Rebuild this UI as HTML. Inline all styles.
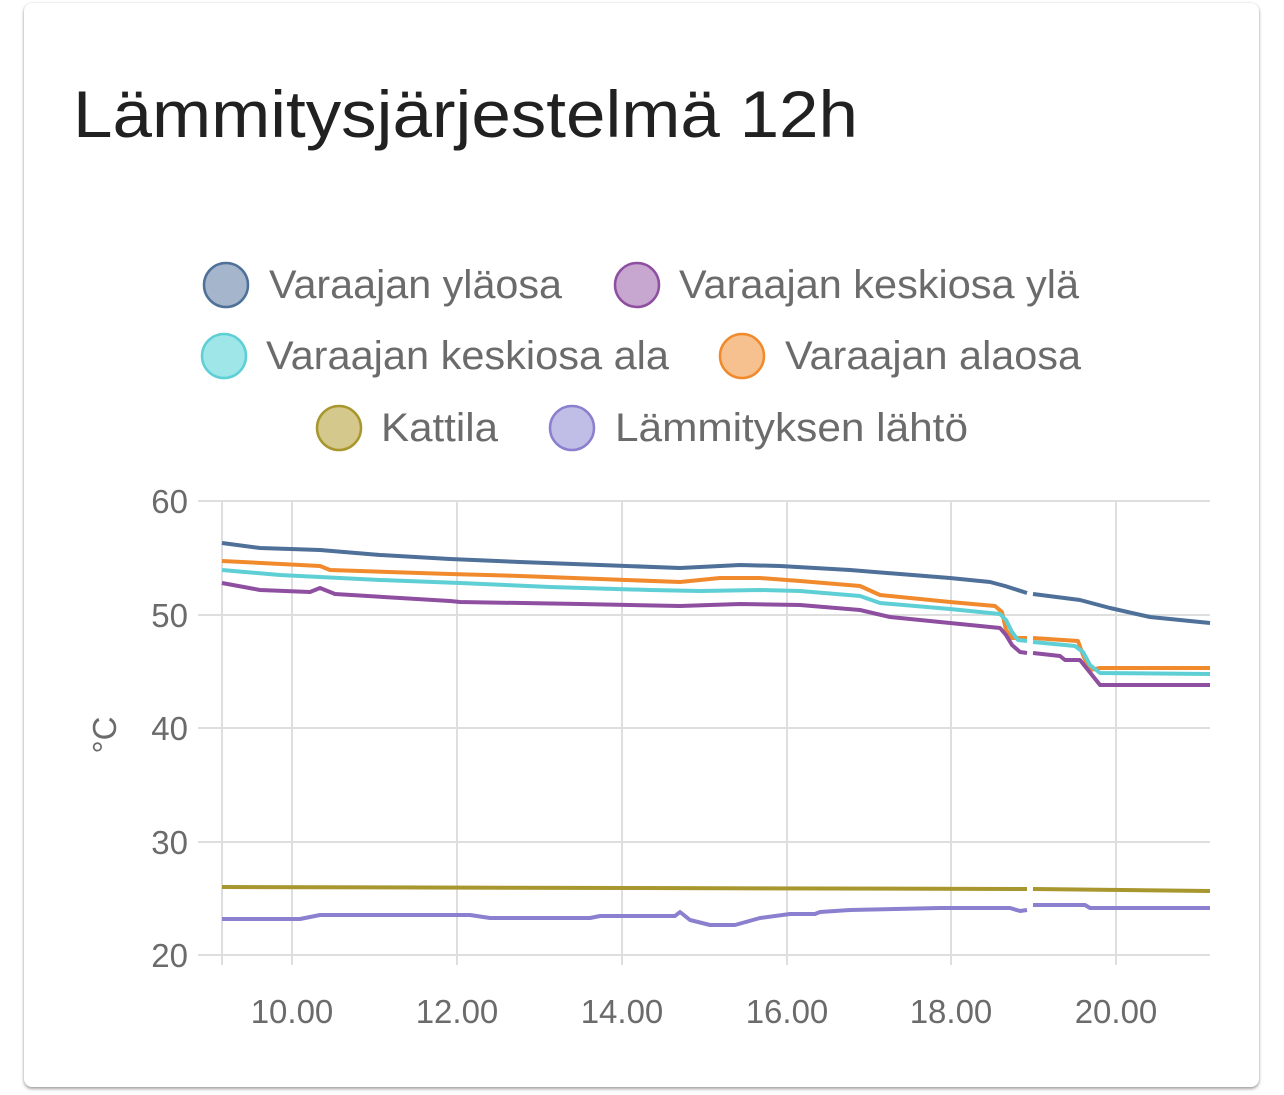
<!DOCTYPE html>
<html><head><meta charset="utf-8"><style>
html,body{margin:0;padding:0;background:#fff;width:1284px;height:1095px;overflow:hidden}
.card{position:absolute;left:24px;top:3px;width:1235px;height:1084px;border-radius:8px;background:#fff;box-shadow:0 2px 3px rgba(0,0,0,0.35),0 0 2px rgba(0,0,0,0.12)}
svg{position:absolute;left:0;top:0}
text{font-family:"Liberation Sans",sans-serif}
</style></head><body>
<div class="card"></div>
<svg width="1284" height="1095" viewBox="0 0 1284 1095">
<text x="73" y="137" font-size="66" fill="#212121" textLength="785" lengthAdjust="spacingAndGlyphs">Lämmitysjärjestelmä 12h</text>
<g font-size="40" fill="#6b6b6b">
<circle cx="226" cy="285" r="22" fill="#a5b5cc" stroke="#4e7099" stroke-width="2.5"/><text x="269" y="298" textLength="293" lengthAdjust="spacingAndGlyphs">Varaajan yläosa</text>
<circle cx="637" cy="285" r="22" fill="#c7a6d0" stroke="#8e4fa0" stroke-width="2.5"/><text x="679" y="298" textLength="400" lengthAdjust="spacingAndGlyphs">Varaajan keskiosa ylä</text>
<circle cx="224" cy="356" r="22" fill="#9ee6e8" stroke="#5ecfd4" stroke-width="2.5"/><text x="266" y="369" textLength="403" lengthAdjust="spacingAndGlyphs">Varaajan keskiosa ala</text>
<circle cx="742" cy="356" r="22" fill="#f6c18e" stroke="#f08a2c" stroke-width="2.5"/><text x="785" y="369" textLength="296" lengthAdjust="spacingAndGlyphs">Varaajan alaosa</text>
<circle cx="339" cy="428" r="22" fill="#d4c88c" stroke="#a8962e" stroke-width="2.5"/><text x="381" y="441" textLength="117" lengthAdjust="spacingAndGlyphs">Kattila</text>
<circle cx="572" cy="428" r="22" fill="#c0bde6" stroke="#8a80cf" stroke-width="2.5"/><text x="615" y="441" textLength="353" lengthAdjust="spacingAndGlyphs">Lämmityksen lähtö</text>
</g>
<g stroke="#dedede" stroke-width="2">
<line x1="198" y1="501" x2="1210" y2="501"/><line x1="198" y1="615" x2="1210" y2="615"/><line x1="198" y1="728" x2="1210" y2="728"/><line x1="198" y1="842" x2="1210" y2="842"/><line x1="198" y1="955" x2="1210" y2="955"/>
<line x1="222" y1="501" x2="222" y2="965"/><line x1="292" y1="501" x2="292" y2="965"/><line x1="457" y1="501" x2="457" y2="965"/><line x1="622" y1="501" x2="622" y2="965"/><line x1="787" y1="501" x2="787" y2="965"/><line x1="951" y1="501" x2="951" y2="965"/><line x1="1116" y1="501" x2="1116" y2="965"/>
</g>
<g font-size="33" fill="#6b6b6b" text-anchor="end">
<text x="188" y="513">60</text><text x="188" y="627">50</text><text x="188" y="740">40</text><text x="188" y="854">30</text><text x="188" y="967">20</text>
</g>
<g font-size="33" fill="#6b6b6b" text-anchor="middle">
<text x="292" y="1023">10.00</text><text x="457" y="1023">12.00</text><text x="622" y="1023">14.00</text><text x="787" y="1023">16.00</text><text x="951" y="1023">18.00</text><text x="1116" y="1023">20.00</text>
</g>
<text transform="translate(116,735) rotate(-90)" font-size="33" fill="#6b6b6b" text-anchor="middle">°C</text>
<g fill="none" stroke-width="4" stroke-linejoin="round">
<g stroke="#4e7099"><polyline points="222,543 260,548 320,550 380,555 450,559 520,562 600,565 680,568 740,565 780,566 850,570 900,574 950,578 990,582 1005,586 1027,593"/><polyline points="1033,594 1080,600 1110,608 1150,617 1210,623"/></g>
<g stroke="#f08a2c"><polyline points="222,561 320,566 330,570 450,574 520,576 600,579 680,582 720,578 760,578 800,581 860,586 880,595 950,602 995,606 1002,612 1006,630 1012,638 1027,638"/><polyline points="1033,638 1078,641 1083,655 1090,670 1100,668 1210,668"/></g>
<g stroke="#5ecfd4"><polyline points="222,570 280,575 380,580 460,583 550,587 650,590 700,591 760,590 800,591 860,596 880,603 950,609 1000,614 1006,620 1012,632 1018,640 1027,641"/><polyline points="1033,642 1075,646 1083,652 1090,665 1100,673 1210,674"/></g>
<g stroke="#8e4fa0"><polyline points="222,583 260,590 310,592 320,588 335,594 400,598 450,601 460,602 580,604 680,606 740,604 800,605 860,610 890,617 950,623 1000,628 1006,635 1012,645 1020,652 1027,653"/><polyline points="1033,653 1060,656 1065,660 1080,660 1088,670 1100,685 1210,685"/></g>
<g stroke="#a8962e"><polyline points="222,887 1027,889"/><polyline points="1033,889 1210,891"/></g>
<g stroke="#8a80cf"><polyline points="222,919 300,919 320,915 470,915 490,918 590,918 600,916 675,916 680,912 690,920 710,925 735,925 760,918 790,914 815,914 820,912 850,910 940,908 1010,908 1020,911 1027,910"/><polyline points="1033,905 1085,905 1090,908 1210,908"/></g>
</g>
</svg>
</body></html>
